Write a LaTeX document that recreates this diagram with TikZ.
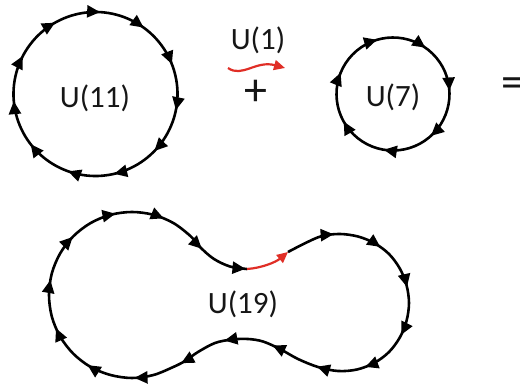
\documentclass[tikz,border=0pt]{standalone}
\usepackage{fontspec}
\setmainfont{Carlito}
\usetikzlibrary{arrows.meta,decorations.markings}
\definecolor{redarr}{RGB}{224,46,38}
\definecolor{txt}{RGB}{22,22,22}
\tikzset{
  loopline/.style={line width=2.6pt, black},
  tipmarks/.style n args={2}{postaction={decorate},
    decoration={markings, mark=between positions #1 and 1 step #2 with
      {\arrow{Triangle[length=13pt,width=12pt]}}}},
  redline/.style={line width=2.2pt, redarr, -{Triangle[length=11pt,width=10pt]}},
  lbl/.style={font=\fontsize{31}{36}\selectfont, text=txt, inner sep=0pt},
  sym/.style={font=\fontsize{46}{50}\selectfont, text=txt, inner sep=0pt},
}
\begin{document}
\begin{tikzpicture}[x=1pt,y=-1pt]
\useasboundingbox[fill=white] (0,0) rectangle (520,385);
% centres
\coordinate (c11) at (95.5,94);
\coordinate (c7) at (393,94);
% U(11) circle, 11 arrows clockwise
\draw[loopline, tipmarks={0.0545}{0.0909}] (c11) ++(-106.4:82) arc[start angle=-106.4, delta angle=360, radius=82];
\node[lbl] (u11) at (95,98) {U(11)};
% U(7) circle, 7 arrows clockwise
\draw[loopline, tipmarks={0.0814}{0.142857}] (c7) ++(-135.7:56.5) arc[start angle=-135.7, delta angle=360, radius=56.5];
\node[lbl] (u7) at (393,97) {U(7)};
% U(1) and plus
\node[lbl] (u1) at (258,40) {U(1)};
\coordinate (w0) at (228,68);
\coordinate (w1) at (285,68);
\draw[redline] (w0) .. controls (242,78) and (256,60) .. (w1);
\node[sym] (plus) at (256,93) {+};
\node[sym, anchor=west] (eq) at (501,88) {=};
% U(19) peanut
\coordinate (r0) at (247,269);
\coordinate (r1) at (288,252);
\draw[loopline, tipmarks={0.0556}{0.05545}] plot[smooth, tension=0.55] coordinates {
 (288,252) (305.5,243) (322,236) (340,234) (358,236.5) (374.5,243.2) (389,254)
 (399.8,268.5) (406.5,285) (409,303) (406.5,321) (399.8,337.5) (389,352)
 (374.5,362.8) (357,369.5) (338,371) (318,367) (298,359) (280,349) (263,341.5)
 (248,339) (232,339.5) (215,343) (198,352) (185,361) (173.5,366.9) (153.5,375)
 (132,378) (110.5,375) (90.5,366.9) (73.3,353.7) (60.1,336.5) (51.8,316.5)
 (49,295) (51.8,273.5) (60.1,253.5) (73.3,236.3) (90.5,223.1) (110.5,214.8)
 (132,212) (153.5,214.8) (173.5,223.1) (190.7,236.3) (201,248) (214,259)
 (230,266.5) (247,269)};
\draw[redline] (r0) .. controls (262,268) and (276,262) .. (r1);
\node[lbl] (u19) at (243,304) {U(19)};
\end{tikzpicture}
\end{document}
